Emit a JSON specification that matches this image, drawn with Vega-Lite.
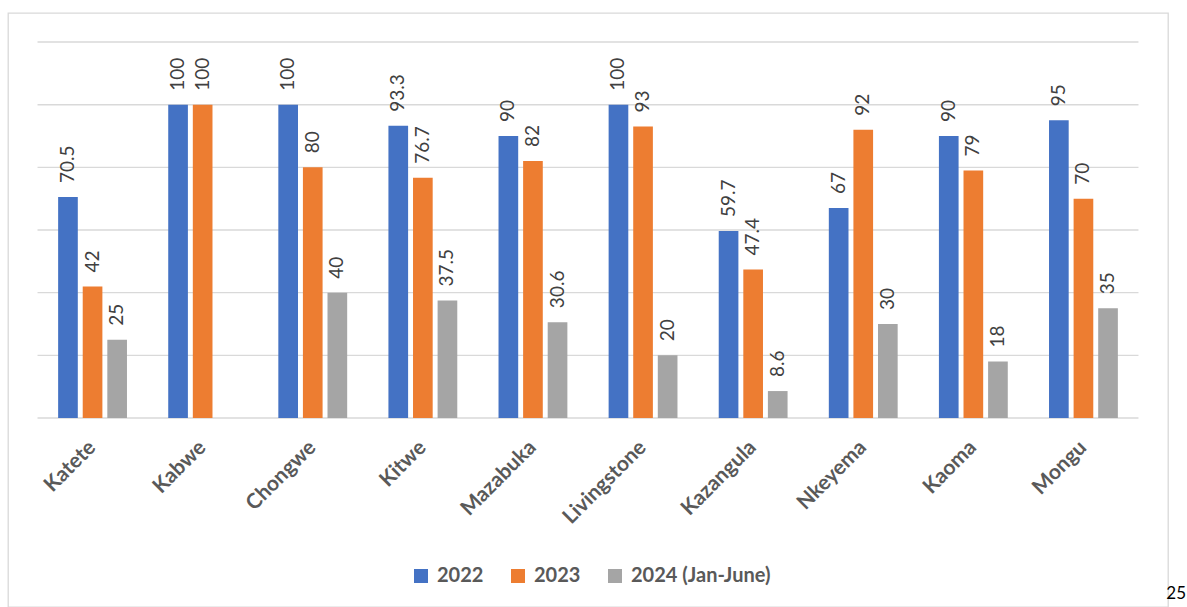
{
  "$schema": "https://vega.github.io/schema/vega-lite/v6.json",
  "autosize": "none",
  "padding": {"left": 8, "top": 13, "right": 19, "bottom": 0},
  "width": 1160,
  "height": 594,
  "background": "#ffffff",
  "config": {
    "font": "Lato",
    "view": {"stroke": "#d9d9d9", "strokeWidth": 1.3}
  },
  "title": {
    "text": "25",
    "orient": "bottom",
    "anchor": "end",
    "frame": "group",
    "offset": -21,
    "dx": 18,
    "font": "Lato",
    "fontSize": 17,
    "fontWeight": "normal",
    "color": "#000000"
  },
  "datasets": {
    "gridLevels": [
      {"level": 0}, {"level": 20}, {"level": 40}, {"level": 60},
      {"level": 80}, {"level": 100}, {"level": 120}
    ],
    "rates": [
      {"site": "Katete", "year": "2022", "value": 70.5},
      {"site": "Katete", "year": "2023", "value": 42},
      {"site": "Katete", "year": "2024 (Jan-June)", "value": 25},
      {"site": "Kabwe", "year": "2022", "value": 100},
      {"site": "Kabwe", "year": "2023", "value": 100},
      {"site": "Chongwe", "year": "2022", "value": 100},
      {"site": "Chongwe", "year": "2023", "value": 80},
      {"site": "Chongwe", "year": "2024 (Jan-June)", "value": 40},
      {"site": "Kitwe", "year": "2022", "value": 93.3},
      {"site": "Kitwe", "year": "2023", "value": 76.7},
      {"site": "Kitwe", "year": "2024 (Jan-June)", "value": 37.5},
      {"site": "Mazabuka", "year": "2022", "value": 90},
      {"site": "Mazabuka", "year": "2023", "value": 82},
      {"site": "Mazabuka", "year": "2024 (Jan-June)", "value": 30.6},
      {"site": "Livingstone", "year": "2022", "value": 100},
      {"site": "Livingstone", "year": "2023", "value": 93},
      {"site": "Livingstone", "year": "2024 (Jan-June)", "value": 20},
      {"site": "Kazangula", "year": "2022", "value": 59.7},
      {"site": "Kazangula", "year": "2023", "value": 47.4},
      {"site": "Kazangula", "year": "2024 (Jan-June)", "value": 8.6},
      {"site": "Nkeyema", "year": "2022", "value": 67},
      {"site": "Nkeyema", "year": "2023", "value": 92},
      {"site": "Nkeyema", "year": "2024 (Jan-June)", "value": 30},
      {"site": "Kaoma", "year": "2022", "value": 90},
      {"site": "Kaoma", "year": "2023", "value": 79},
      {"site": "Kaoma", "year": "2024 (Jan-June)", "value": 18},
      {"site": "Mongu", "year": "2022", "value": 95},
      {"site": "Mongu", "year": "2023", "value": 70},
      {"site": "Mongu", "year": "2024 (Jan-June)", "value": 35}
    ]
  },
  "layer": [
    {
      "data": {"name": "gridLevels"},
      "mark": {"type": "rule", "color": "#d9d9d9", "strokeWidth": 1.4},
      "encoding": {
        "y": {
          "field": "level",
          "type": "quantitative",
          "scale": {"domain": [-60.32, 129.26], "nice": false, "zero": false},
          "axis": null
        },
        "x": {
          "datum": "Katete",
          "type": "nominal",
          "bandPosition": -0.246,
          "scale": {
            "domain": ["Katete", "Kabwe", "Chongwe", "Kitwe", "Mazabuka", "Livingstone", "Kazangula", "Nkeyema", "Kaoma", "Mongu"],
            "paddingInner": 0.33,
            "paddingOuter": 0.433
          }
        },
        "x2": {"datum": "Mongu", "bandPosition": 1.246}
      }
    },
    {
      "data": {"name": "rates"},
      "mark": {"type": "bar"},
      "encoding": {
        "x": {
          "field": "site",
          "type": "nominal",
          "sort": null,
          "scale": {
            "domain": ["Katete", "Kabwe", "Chongwe", "Kitwe", "Mazabuka", "Livingstone", "Kazangula", "Nkeyema", "Kaoma", "Mongu"],
            "paddingInner": 0.33,
            "paddingOuter": 0.433
          },
          "axis": {
            "orient": "bottom",
            "offset": -189,
            "title": null,
            "domain": false,
            "ticks": false,
            "grid": false,
            "labelAngle": -45,
            "labelAlign": "right",
            "labelBaseline": "middle",
            "labelPadding": 26,
            "labelFont": "Lato",
            "labelFontSize": 21,
            "labelFontWeight": "bold",
            "labelColor": "#595959"
          }
        },
        "xOffset": {
          "field": "year",
          "type": "nominal",
          "scale": {"paddingInner": 0.2, "paddingOuter": 0.1}
        },
        "y": {
          "field": "value",
          "type": "quantitative",
          "scale": {"domain": [-60.32, 129.26], "nice": false, "zero": false},
          "axis": null
        },
        "y2": {"datum": 0},
        "color": {
          "field": "year",
          "type": "nominal",
          "scale": {
            "domain": ["2022", "2023", "2024 (Jan-June)"],
            "range": ["#4472c4", "#ed7d31", "#a5a5a5"]
          },
          "legend": {
            "orient": "none",
            "legendX": 403,
            "legendY": 553,
            "direction": "horizontal",
            "columns": 3,
            "title": null,
            "symbolType": "square",
            "symbolSize": 196,
            "symbolStrokeWidth": 0,
            "labelFont": "Lato",
            "labelFontSize": 20,
            "labelFontWeight": "bold",
            "labelColor": "#595959",
            "labelOffset": 6,
            "columnPadding": 24
          }
        }
      }
    },
    {
      "data": {"name": "rates"},
      "mark": {
        "type": "text",
        "angle": 270,
        "align": "left",
        "baseline": "middle",
        "dx": 14,
        "font": "Lato",
        "fontSize": 19,
        "color": "#404040"
      },
      "encoding": {
        "x": {"field": "site", "type": "nominal", "sort": null},
        "xOffset": {"field": "year", "type": "nominal"},
        "y": {"field": "value", "type": "quantitative"},
        "text": {"field": "value", "type": "nominal"}
      }
    }
  ]
}
